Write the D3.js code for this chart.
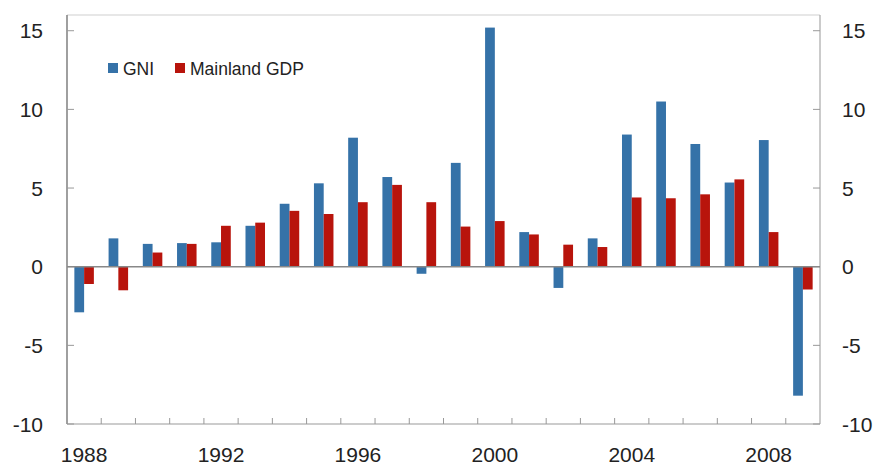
<!DOCTYPE html>
<html><head><meta charset="utf-8">
<script src="https://cdn.jsdelivr.net/npm/d3@7"></script>
<style>body{margin:0;background:#fff}svg{display:block}text{font-family:"Liberation Sans",Arial,sans-serif;fill:#222}</style>
</head><body><svg id="c" width="877" height="466"></svg>
<script>
const years = [1988,1989,1990,1991,1992,1993,1994,1995,1996,1997,1998,1999,2000,2001,2002,2003,2004,2005,2006,2007,2008,2009];
const gni = [-2.9,1.8,1.45,1.5,1.55,2.6,4.0,5.3,8.2,5.7,-0.45,6.6,15.2,2.2,-1.35,1.8,8.4,10.5,7.8,5.35,8.05,-8.2];
const gdp = [-1.1,-1.5,0.9,1.45,2.6,2.8,3.55,3.35,4.1,5.2,4.1,2.55,2.9,2.05,1.4,1.25,4.4,4.35,4.6,5.55,2.2,-1.45];
const yTicks = [-10,-5,0,5,10,15];
const xLabels = [1988,1992,1996,2000,2004,2008];
const seriesNames = ["GNI","Mainland GDP"];
const colors = ["#3572a8","#b8140c"];

const svg = d3.select("#c");
const L=67, R=820, T=15, B=424;
const x = d3.scaleBand().domain(years).range([L,R]).paddingInner(0).paddingOuter(0);
const y = d3.scaleLinear().domain([-10,16]).range([B,T]);
const bw = x.bandwidth()*0.285;

// frame
svg.append("line").attr("x1",L).attr("x2",R).attr("y1",T).attr("y2",T).attr("stroke","#d0d0d0").attr("stroke-width",1.2);
svg.append("line").attr("x1",R).attr("x2",R).attr("y1",T).attr("y2",B).attr("stroke","#a8a8a8").attr("stroke-width",1.2);
svg.append("line").attr("x1",L).attr("x2",R).attr("y1",B).attr("y2",B).attr("stroke","#999").attr("stroke-width",1.2);
svg.append("line").attr("x1",L).attr("x2",L).attr("y1",T).attr("y2",B).attr("stroke","#888").attr("stroke-width",1.6);

// y ticks
const gy = svg.append("g");
yTicks.forEach(t=>{
  gy.append("line").attr("x1",L).attr("x2",L+7).attr("y1",y(t)).attr("y2",y(t)).attr("stroke","#999");
  gy.append("line").attr("x1",R-7).attr("x2",R).attr("y1",y(t)).attr("y2",y(t)).attr("stroke","#999");
  gy.append("text").attr("x",43).attr("y",y(t)).attr("dy","0.36em").attr("text-anchor","end").attr("font-size",21).text(t);
  gy.append("text").attr("x",842).attr("y",y(t)).attr("dy","0.36em").attr("text-anchor","start").attr("font-size",21).text(t);
});
// x ticks at band boundaries
years.slice(1).forEach(yr=>{
  svg.append("line").attr("x1",x(yr)).attr("x2",x(yr)).attr("y1",B).attr("y2",B-6).attr("stroke","#999");
});
xLabels.forEach(yr=>{
  svg.append("text").attr("x",x(yr)+x.bandwidth()/2).attr("y",462).attr("text-anchor","middle").attr("font-size",21).text(yr);
});

// bars
[gni,gdp].forEach((vals,si)=>{
  svg.append("g").selectAll("rect").data(years).join("rect")
    .attr("x",(d)=>x(d)+x.bandwidth()/2-bw+si*bw)
    .attr("width",bw)
    .attr("y",(d,i)=>y(Math.max(0,vals[i])))
    .attr("height",(d,i)=>Math.abs(y(vals[i])-y(0)))
    .attr("fill",colors[si]);
});

// zero line
svg.append("line").attr("x1",L).attr("x2",R).attr("y1",y(0)).attr("y2",y(0)).attr("stroke","#888").attr("stroke-width",1.4);

// legend
const lg = svg.append("g");
const lx=[108,175];
seriesNames.forEach((n,i)=>{
  lg.append("rect").attr("x",lx[i]).attr("y",63).attr("width",10).attr("height",10).attr("fill",colors[i]);
  lg.append("text").attr("x",lx[i]+15).attr("y",75).attr("font-size",17.5).text(n);
});
</script></body></html>
